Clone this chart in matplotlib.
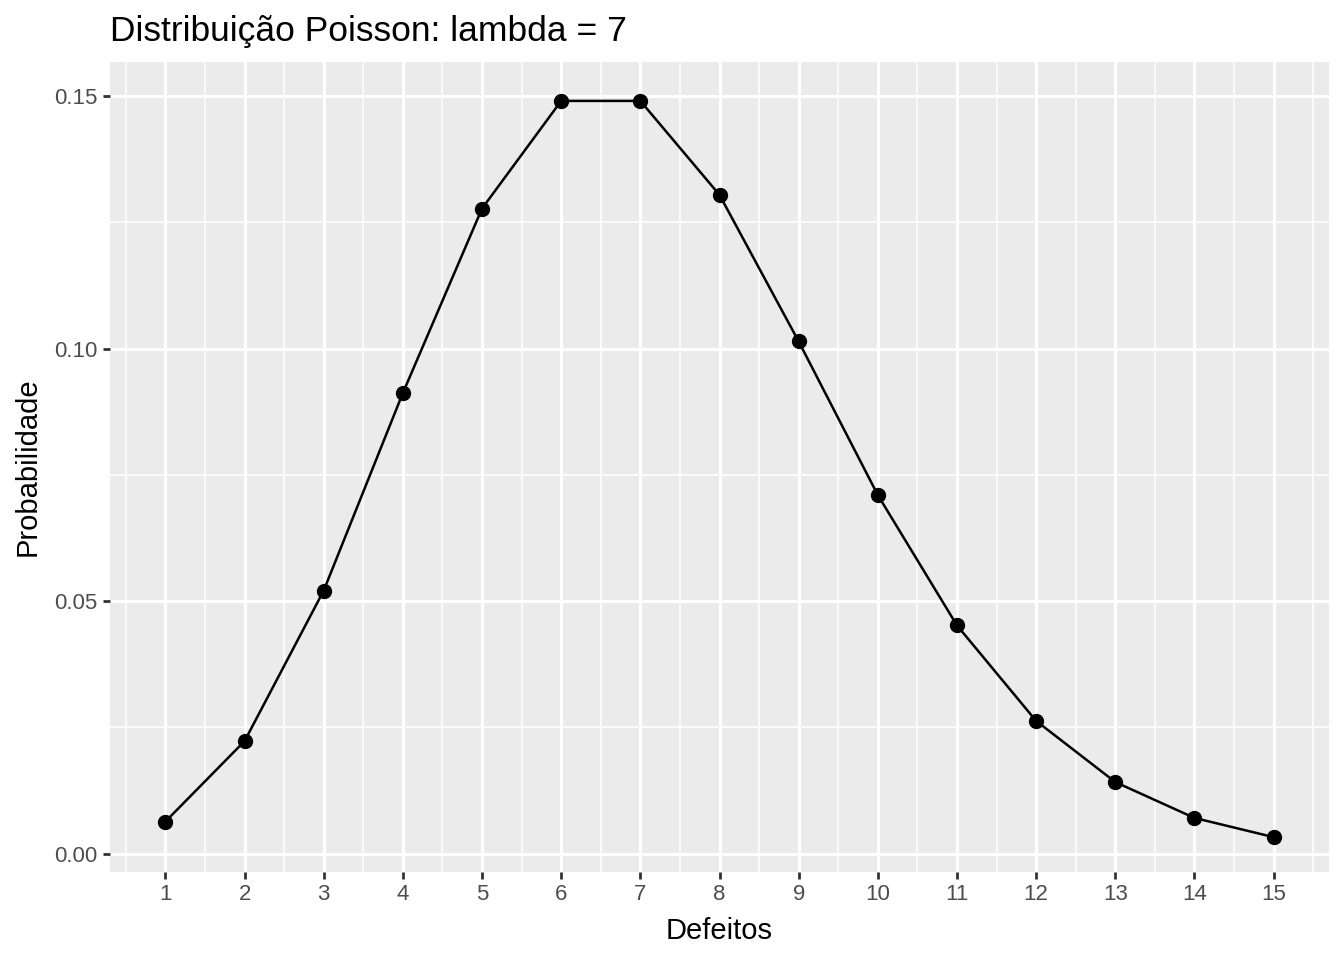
import matplotlib.pyplot as plt
from matplotlib.ticker import FixedLocator

plt.rcParams['font.family'] = ['Liberation Sans', 'DejaVu Sans']

defeitos = [1, 2, 3, 4, 5, 6, 7, 8, 9, 10, 11, 12, 13, 14, 15]
prob = [0.00638, 0.0223, 0.0521, 0.0912, 0.1277, 0.1490, 0.1490, 0.1304,
        0.1014, 0.0710, 0.0452, 0.0263, 0.0142, 0.0071, 0.0033]
yticks = [0.00, 0.05, 0.10, 0.15]
ytick_labels = ['0.00', '0.05', '0.10', '0.15']

fig = plt.figure(figsize=(13.44, 9.6), dpi=100)
ax = fig.add_axes([110 / 1344, 1 - 872 / 960, (1329 - 110) / 1344, (872 - 62) / 960])
ax.set_facecolor('#EBEBEB')
for s in ax.spines.values():
    s.set_visible(False)

ax.set_xlim(0.3, 15.7)
ax.set_ylim(-0.0036, 0.1567)
ax.set_xticks(defeitos)
ax.set_xticklabels([str(d) for d in defeitos])
ax.set_yticks(yticks)
ax.set_yticklabels(ytick_labels)
ax.xaxis.set_minor_locator(FixedLocator([d + 0.5 for d in range(0, 16)]))
ax.yaxis.set_minor_locator(FixedLocator([0.025, 0.075, 0.125]))

ax.grid(which='major', color='white', linewidth=2.2)
ax.grid(which='minor', color='white', linewidth=1.1)
ax.set_axisbelow(True)
ax.tick_params(which='major', length=5, width=2, color='#333333',
               labelsize=16, labelcolor='#4D4D4D', pad=4)
ax.tick_params(which='minor', length=0)

ax.plot(defeitos, prob, color='black', linewidth=1.8, zorder=3)
ax.plot(defeitos, prob, 'o', color='black', markersize=10, zorder=4)

ax.set_xlabel('Defeitos', fontsize=21, labelpad=8)
ax.set_ylabel('Probabilidade', fontsize=21, labelpad=9)
ax.set_title('Distribuição Poisson: lambda = 7', fontsize=25.5, loc='left', pad=15)

fig.savefig('out.png', dpi=100)
